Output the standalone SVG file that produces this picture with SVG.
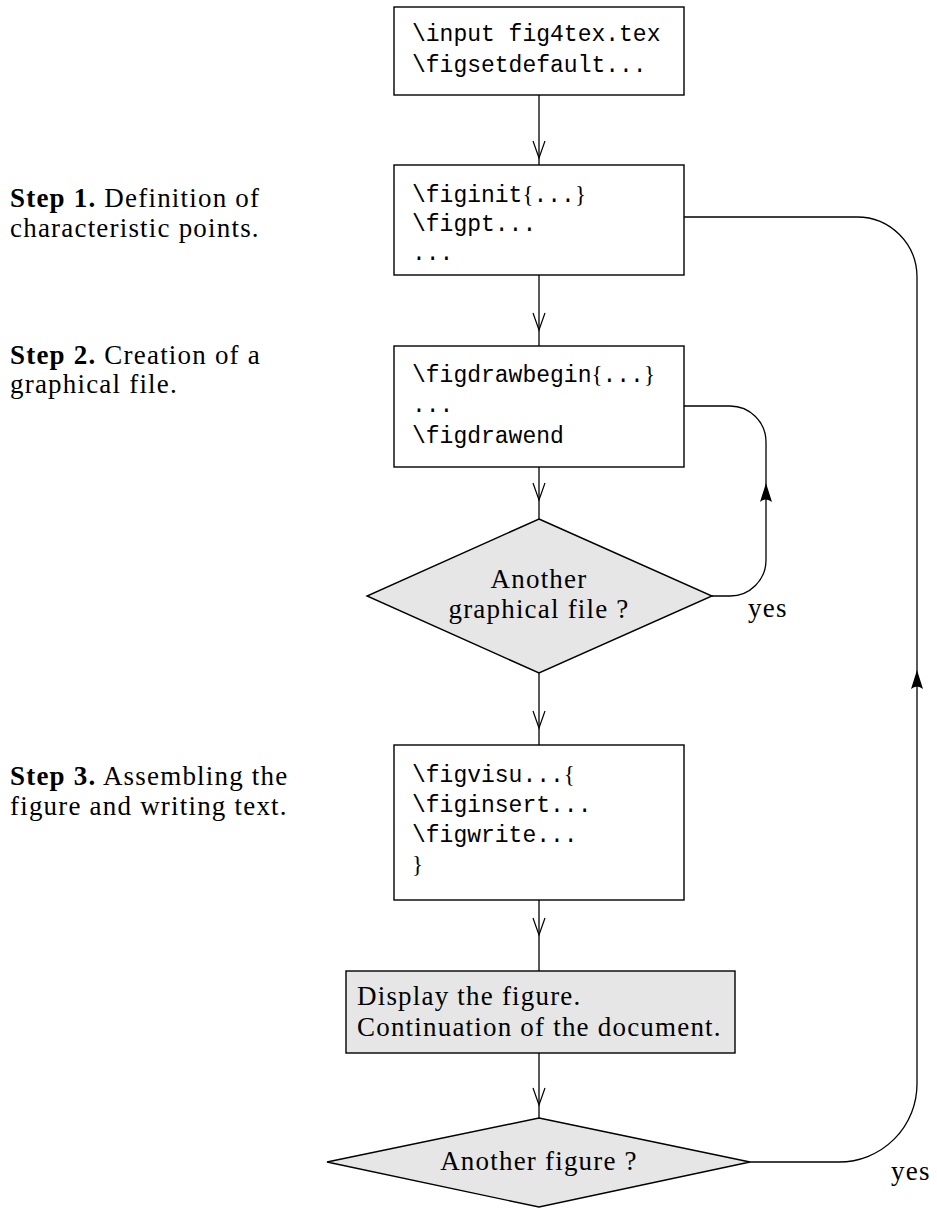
<svg xmlns="http://www.w3.org/2000/svg" width="937" height="1209" viewBox="0 0 937 1209">
<style>
.box{fill:#fff;stroke:#000;stroke-width:1.4}
.gray{fill:#e6e6e6;stroke:#000;stroke-width:1.4}
.tt{font-family:"Liberation Mono","DejaVu Sans Mono",monospace;font-size:23px;fill:#000}
.rm{font-family:"Liberation Serif","Times New Roman",serif;font-size:27px;letter-spacing:1.2px;fill:#000}
.br{font-family:"Liberation Serif","Times New Roman",serif}
.bf{font-weight:bold}
.line{fill:none;stroke:#000;stroke-width:1.3}
.vhead{fill:none;stroke:#000;stroke-width:1.2}
.fhead{fill:#000}
</style>
<defs>
<path id="v" d="M-6,-17 L0,0 L6,-17" class="vhead"/>
<path id="up" d="M0,0 L6,19 Q0,14 -6,19 Z" class="fhead"/>
</defs>
<rect width="937" height="1209" fill="#fff"/>

<g id="connectors">
<path class="line" d="M539,95 V165 M539,275 V346 M539,467 V519 M539,673 V745 M539,900 V971 M539,1053 V1118"/>
<use href="#v" x="539" y="158"/>
<use href="#v" x="539" y="330"/>
<use href="#v" x="539" y="500"/>
<use href="#v" x="539" y="728"/>
<use href="#v" x="539" y="935"/>
<use href="#v" x="539" y="1105"/>
<path class="line" d="M712,596 H730 A36,36 0 0 0 766,560 V442 A36,36 0 0 0 730,406 H684"/>
<use href="#up" x="766" y="483"/>
<path class="line" d="M750,1162 H839 A78,78 0 0 0 917,1084 V277 A60,60 0 0 0 857,217 H684"/>
<use href="#up" x="917" y="670"/>
<text class="rm" x="748" y="617">yes</text>
<text class="rm" x="891" y="1180">yes</text>
</g>

<g id="step1">
<text class="rm" x="10" y="207"><tspan class="bf">Step 1.</tspan> Definition of</text>
<text class="rm" x="10" y="237">characteristic points.</text>
</g>
<g id="step2">
<text class="rm" x="10" y="364"><tspan class="bf">Step 2.</tspan> Creation of a</text>
<text class="rm" x="10" y="393">graphical file.</text>
</g>
<g id="step3">
<text class="rm" x="10" y="785"><tspan class="bf">Step 3.</tspan> Assembling the</text>
<text class="rm" x="10" y="815">figure and writing text.</text>
</g>

<g id="node-input">
<rect class="box" x="394" y="7" width="290" height="88"/>
<text class="tt" x="412" y="41">\input fig4tex.tex</text>
<text class="tt" x="412" y="72">\figsetdefault...</text>
</g>

<g id="node-figinit">
<rect class="box" x="394" y="165" width="290" height="110"/>
<text class="tt" x="412" y="202">\figinit<tspan class="br">{</tspan>...<tspan class="br">}</tspan></text>
<text class="tt" x="412" y="231">\figpt...</text>
<text class="tt" x="412" y="260">...</text>
</g>

<g id="node-figdraw">
<rect class="box" x="394" y="346" width="290" height="121"/>
<text class="tt" x="412" y="382">\figdrawbegin<tspan class="br">{</tspan>...<tspan class="br">}</tspan></text>
<text class="tt" x="412" y="412">...</text>
<text class="tt" x="412" y="443">\figdrawend</text>
</g>

<g id="node-another-file">
<polygon class="gray" points="539,519 712,596 539,673 367,596"/>
<text class="rm" x="539" y="588" text-anchor="middle">Another</text>
<text class="rm" x="539" y="618" text-anchor="middle">graphical file ?</text>
</g>

<g id="node-figvisu">
<rect class="box" x="394" y="745" width="290" height="155"/>
<text class="tt" x="412" y="782">\figvisu...<tspan class="br">{</tspan></text>
<text class="tt" x="412" y="812">\figinsert...</text>
<text class="tt" x="412" y="842">\figwrite...</text>
<text class="tt" x="412" y="872"><tspan class="br">}</tspan></text>
</g>

<g id="node-display">
<rect class="gray" x="346" y="971" width="389" height="82"/>
<text class="rm" x="357" y="1005">Display the figure.</text>
<text class="rm" x="357" y="1036">Continuation of the document.</text>
</g>

<g id="node-another-figure">
<polygon class="gray" points="539,1118 750,1162 539,1207 327,1162"/>
<text class="rm" x="539" y="1170" text-anchor="middle">Another figure ?</text>
</g>
</svg>
